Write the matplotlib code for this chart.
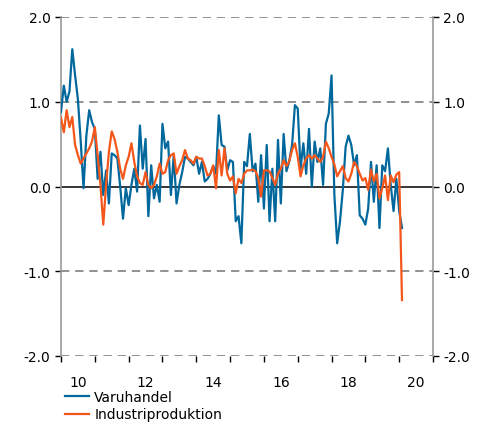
import numpy as np
import matplotlib.pyplot as plt

# monthly values, Jan 2010 onwards
varuhandel = [
    0.88, 1.19, 1.0, 1.12, 1.62, 1.31, 1.03, 0.53, -0.02, 0.6,
    0.9, 0.76, 0.68, 0.09, 0.41, -0.1, 0.19, -0.2, 0.39, 0.37,
    0.33, 0.0, -0.38, -0.02, -0.22, 0.02, 0.21, -0.06, 0.72, 0.21,
    0.56, -0.35, 0.25, -0.14, 0.02, -0.18, 0.74, 0.45, 0.53, -0.1, 0.37,
    -0.2, 0.02, 0.17, 0.35, 0.33, 0.29, 0.25, 0.35, 0.15, 0.29,
    0.06, 0.09, 0.15, 0.24, 0.15, 0.84, 0.49, 0.47, 0.19, 0.31,
    0.29, -0.41, -0.35, -0.67, 0.29, 0.24, 0.62, 0.18, 0.27, -0.18,
    0.37, -0.26, 0.49, -0.41, 0.21, -0.41, 0.55, -0.2, 0.62, 0.18, 0.3,
    0.49, 0.96, 0.92, 0.21, 0.51, 0.15, 0.68, 0.0, 0.53, 0.29,
    0.45, 0.02, 0.74, 0.86, 1.31, -0.1, -0.67, -0.41, -0.04, 0.47, 0.6,
    0.49, 0.25, 0.37, -0.34, -0.38, -0.45, -0.26, 0.29, -0.18, 0.25,
    -0.49, 0.25, 0.18, 0.45, 0.02, -0.29, 0.09, -0.29, -0.49,
]
industriproduktion = [
    0.81, 0.64, 0.9, 0.7, 0.82, 0.49, 0.37, 0.27, 0.33, 0.39,
    0.45, 0.53, 0.7, 0.37, 0.02, -0.45, 0.02, 0.41, 0.65, 0.56,
    0.41, 0.21, 0.09, 0.25, 0.35, 0.51, 0.29, 0.12, 0.04, 0.02,
    0.17, 0.02, -0.02, 0.02, 0.12, 0.27, 0.15, 0.17, 0.31, 0.37, 0.39,
    0.15, 0.24, 0.31, 0.43, 0.33, 0.31, 0.27, 0.35, 0.33, 0.33,
    0.24, 0.13, 0.15, 0.25, -0.02, 0.43, 0.13, 0.45, 0.15, 0.07,
    0.12, -0.08, 0.09, 0.04, 0.15, 0.19, 0.19, 0.2, 0.18, 0.1,
    -0.12, 0.19, 0.19, 0.18, 0.1, 0.02, 0.15, 0.21, 0.31, 0.24, 0.3,
    0.43, 0.51, 0.35, 0.12, 0.25, 0.33, 0.37, 0.33, 0.37, 0.33,
    0.29, 0.35, 0.53, 0.45, 0.35, 0.26, 0.12, 0.18, 0.24, 0.1, 0.06,
    0.15, 0.29, 0.24, 0.15, 0.07, 0.1, -0.04, 0.2, 0.06, 0.15,
    -0.14, -0.02, 0.13, -0.16, 0.13, 0.05, 0.14, 0.17, -1.34,
]
year_labels = ["10", "12", "14", "16", "18", "20"]
y_ticks = [-2.0, -1.0, 0.0, 1.0, 2.0]
y_labels = ["-2.0", "-1.0", "0.0", "1.0", "2.0"]

blue = "#00689c"
orange = "#f5561a"

months = np.arange(len(varuhandel))
x = 2010 + months / 12.0

fig = plt.figure(figsize=(4.89, 4.27), dpi=100)
ax = fig.add_axes([61 / 489, 1 - 357 / 427, 372 / 489, 339 / 427])

for yv in [-2, -1, 1, 2]:
    ax.axhline(yv, color="#7f7f7f", lw=1.2, ls=(0, (5, 3.5)), zorder=1)
ax.axhline(0, color="black", lw=1.1, zorder=1)

ax.plot(x, varuhandel, color=blue, lw=1.6, label="Varuhandel", zorder=3)
ax.plot(x, industriproduktion, color=orange, lw=1.6, label="Industriproduktion", zorder=4)

ax.set_xlim(2010, 2021)
ax.set_ylim(-2, 2)

ax.set_xticks(np.arange(2010, 2022))
ax.set_xticklabels([])
ax.set_xticks([2010.5 + 2 * i for i in range(len(year_labels))], minor=True)
ax.set_xticklabels(year_labels, minor=True)
ax.tick_params(axis="x", which="major", direction="out", length=4, width=1, color="black")
ax.tick_params(axis="x", which="minor", length=0, pad=14, labelsize=10)

ax.set_yticks(y_ticks)
ax.set_yticklabels(y_labels)
ax.tick_params(axis="y", direction="out", length=4, width=1, color="black",
               labelsize=10, left=True, right=True, labelleft=True, labelright=True)

for s in ["top", "bottom"]:
    ax.spines[s].set_visible(False)
for s in ["left", "right"]:
    ax.spines[s].set_color("#999999")
    ax.spines[s].set_linewidth(1.2)

fig.legend(loc="upper left", bbox_to_anchor=(65 / 489, 1 - 391 / 427), frameon=False,
           fontsize=10, handlelength=1.7, handletextpad=0.4, labelspacing=0.25,
           borderaxespad=0, borderpad=0)

fig.savefig("out.png", dpi=100)
